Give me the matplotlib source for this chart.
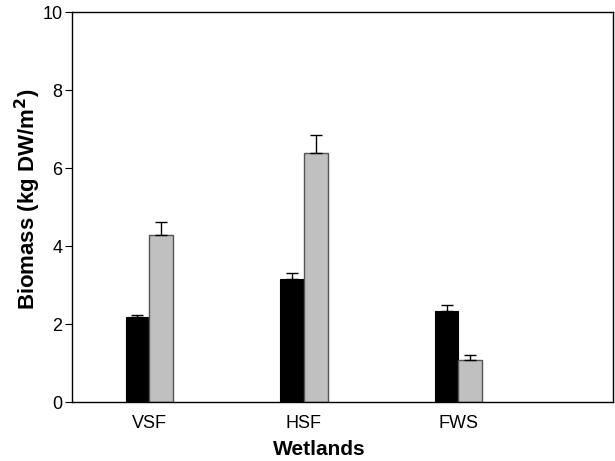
import matplotlib
matplotlib.use("Agg")
import matplotlib.pyplot as plt
import numpy as np

plt.rcParams['font.family'] = ['Liberation Sans', 'DejaVu Sans']

# data
wetlands = ['VSF', 'HSF', 'FWS']
black_vals = [2.18, 3.15, 2.33]
black_err = [0.05, 0.16, 0.15]
gray_vals = [4.28, 6.38, 1.08]
gray_err = [0.34, 0.47, 0.12]

fig = plt.figure(figsize=(6.15, 4.61), dpi=100)
ax = fig.add_axes([72/615, 1 - 402/461, (613-72)/615, (402-12)/461])

x = np.arange(len(wetlands))
w = 0.153
ax.bar(x - w/2, black_vals, w, color='black', edgecolor='black', linewidth=0.8,
       yerr=[np.zeros(3), black_err], capsize=4.3, error_kw=dict(elinewidth=1, capthick=1, ecolor='black'))
ax.bar(x + w/2, gray_vals, w, color='#c0c0c0', edgecolor='#555555', linewidth=1,
       yerr=[np.zeros(3), gray_err], capsize=4.3, error_kw=dict(elinewidth=1, capthick=1, ecolor='black'))

ax.set_xlim(-0.5, 3.0)
ax.set_ylim(0, 10)
ax.set_xticks(x)
ax.set_xticklabels(wetlands, fontsize=13)
ax.tick_params(axis='x', length=0, pad=9)
ax.set_yticks([0, 2, 4, 6, 8, 10])
ax.tick_params(axis='y', direction='out', length=5, labelsize=13, pad=2)
for s in ax.spines.values():
    s.set_linewidth(1)

ax.set_xlabel('Wetlands', fontsize=15, fontweight='bold')
ax.xaxis.set_label_coords(0.458, -0.097)
ax.set_ylabel('Biomass (kg DW/m$^\\mathbf{2}$)', fontsize=16, fontweight='bold')
ax.yaxis.set_label_coords(-0.053, 0.52)

fig.savefig('out.png', dpi=100)
